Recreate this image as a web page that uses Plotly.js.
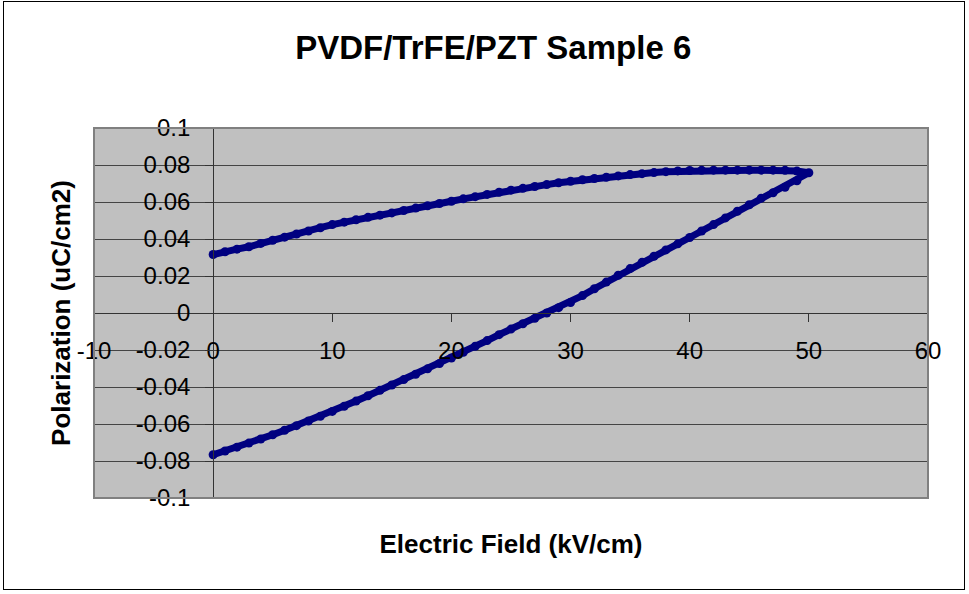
<!DOCTYPE html>
<html>
<head>
<meta charset="utf-8">
<script src="https://cdn.plot.ly/plotly-3.0.1.min.js"></script>
<style>
  html, body { margin: 0; padding: 0; background: #ffffff; }
  #wrap { position: relative; width: 969px; height: 594px; }
  #chart { position: absolute; left: 0; top: 0; width: 969px; height: 594px; }
  #frame { position: absolute; left: 3px; top: 1px; width: 960px; height: 587px; border: 1.5px solid #000; pointer-events: none; }
</style>
</head>
<body>
<div id="wrap"><div id="chart"></div><div id="frame"></div></div>
<script>
// Electric field (kV/cm): rising branch 0 -> 50, then returning branch 49 -> 0
const fieldKVcm = [
  0,1,2,3,4,5,6,7,8,9,10,11,12,13,14,15,16,17,18,19,20,21,22,23,24,25,
  26,27,28,29,30,31,32,33,34,35,36,37,38,39,40,41,42,43,44,45,46,47,48,49,50,
  49,48,47,46,45,44,43,42,41,40,39,38,37,36,35,34,33,32,31,30,29,28,27,26,25,
  24,23,22,21,20,19,18,17,16,15,14,13,12,11,10,9,8,7,6,5,4,3,2,1,0
];
// Polarization (uC/cm2), same order as fieldKVcm
const polarization = [
  -0.0766,-0.0746,-0.0725,-0.0703,-0.0681,-0.0658,-0.0634,-0.0609,-0.0584,-0.0558,
  -0.0532,-0.0504,-0.0476,-0.0447,-0.0418,-0.0389,-0.0360,-0.0331,-0.0302,-0.0273,
  -0.0243,-0.0212,-0.0180,-0.0149,-0.0117,-0.0087,-0.0058,-0.0029,0.0000,0.0029,
  0.0057,0.0094,0.0131,0.0167,0.0204,0.0240,0.0274,0.0307,0.0341,0.0374,
  0.0408,0.0443,0.0478,0.0514,0.0550,0.0585,0.0620,0.0650,0.0680,0.0715,0.0758,
  0.0767,0.0771,0.0772,0.0772,0.0772,0.0772,0.0772,0.0772,0.0771,0.0770,
  0.0768,0.0764,0.0759,0.0753,0.0748,0.0741,0.0734,0.0727,0.0720,0.0712,
  0.0704,0.0694,0.0684,0.0674,0.0664,0.0653,0.0641,0.0629,0.0617,0.0604,
  0.0592,0.0580,0.0567,0.0554,0.0541,0.0529,0.0517,0.0504,0.0491,0.0478,
  0.0461,0.0443,0.0427,0.0410,0.0393,0.0376,0.0358,0.0345,0.0331,0.0316
];
const xTickVals = [-10,0,10,20,30,40,50,60];
const xTickText = ["-10","0","10","20","30","40","50","60"];
const yTickVals = [-0.1,-0.08,-0.06,-0.04,-0.02,0,0.02,0.04,0.06,0.08,0.1];
const yTickText = ["-0.1","-0.08","-0.06","-0.04","-0.02","0","0.02","0.04","0.06","0.08","0.1"];
const chartTitle = "PVDF/TrFE/PZT Sample 6";
const xTitle = "Electric Field (kV/cm)";
const yTitle = "Polarization (uC/cm2)";

const FONT = "Arial, 'Liberation Sans', sans-serif";
const xMin = -10, xMax = 60, yMin = -0.1, yMax = 0.1;

const trace = {
  x: fieldKVcm, y: polarization,
  type: "scatter", mode: "lines+markers",
  line: { color: "#000080", width: 7 },
  marker: { color: "#000080", size: 9, symbol: "circle" },
  hoverinfo: "skip", showlegend: false
};

const layout = {
  width: 969, height: 594,
  margin: { l: 94, r: 41, t: 128, b: 96, pad: 0 },
  paper_bgcolor: "#ffffff",
  plot_bgcolor: "#c0c0c0",
  font: { family: FONT, color: "#000000", size: 24 },
  showlegend: false,
  title: {
    text: chartTitle,
    font: { family: FONT, size: 33, weight: 700, color: "#000" },
    xref: "container", x: 0.509, xanchor: "center",
    yref: "container", y: 0.92, yanchor: "middle"
  },
  xaxis: {
    range: [xMin, xMax],
    anchor: "free", position: (0 - yMin) / (yMax - yMin),
    tickmode: "array", tickvals: xTickVals, ticktext: xTickText,
    showgrid: false, zeroline: false,
    showline: true, linecolor: "#333333", linewidth: 1,
    ticks: "outside", ticklen: 8, tickcolor: "#333333", tickwidth: 1,
    tickfont: { family: FONT, size: 24, color: "#000" },
    ticklabelstandoff: 8,
    title: { text: xTitle, font: { family: FONT, size: 26, weight: 700, color: "#000" }, standoff: 172 },
    fixedrange: true
  },
  yaxis: {
    range: [yMin, yMax],
    anchor: "free", position: (0 - xMin) / (xMax - xMin),
    tickmode: "array", tickvals: yTickVals, ticktext: yTickText,
    showgrid: true, gridcolor: "#444444", gridwidth: 1,
    zeroline: false,
    showline: true, linecolor: "#333333", linewidth: 1,
    ticks: "outside", ticklen: 8, tickcolor: "#333333", tickwidth: 1,
    tickfont: { family: FONT, size: 24, color: "#000" },
    ticklabelstandoff: 10,
    title: { text: yTitle, font: { family: FONT, size: 26, weight: 700, color: "#000" }, standoff: 56 },
    fixedrange: true
  },
  shapes: [{
    type: "rect", xref: "paper", yref: "paper", x0: 0, x1: 1, y0: 0, y1: 1,
    line: { color: "#808080", width: 2 }, fillcolor: "rgba(0,0,0,0)", layer: "above"
  }]
};

Plotly.newPlot("chart", [trace], layout, { displayModeBar: false, staticPlot: true });
</script>
</body>
</html>
